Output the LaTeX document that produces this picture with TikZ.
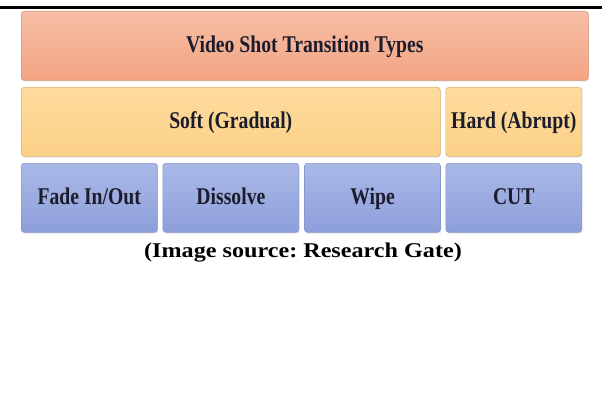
\documentclass[tikz,border=0pt]{standalone}
\usepackage{fontspec}
\setmainfont{Liberation Serif}
\newfontfamily\boxfont[FakeStretch=0.82]{Liberation Serif}
\newfontfamily\notefont[FakeStretch=1.15]{Liberation Serif}
\usetikzlibrary{positioning,shadows}
\frenchspacing

\definecolor{salmontop}{HTML}{F5BEA5}
\definecolor{salmonbot}{HTML}{F4A483}
\definecolor{salmonline}{HTML}{D9957A}
\definecolor{sandtop}{HTML}{FEDB9E}
\definecolor{sandbot}{HTML}{FCD187}
\definecolor{sandline}{HTML}{D8B477}
\definecolor{bluetop}{HTML}{AAB9E7}
\definecolor{bluebot}{HTML}{8D9FDB}
\definecolor{blueline}{HTML}{8797CC}
\definecolor{inktext}{HTML}{1C1C2C}

\tikzset{
  tbox/.style={rounded corners=3pt,line width=.6pt,minimum height=69pt,inner sep=0pt,
    text height=17pt,text depth=3pt,
    text=inktext,font=\boxfont\bfseries\fontsize{24}{26}\selectfont,
    drop shadow={opacity=.18,shadow xshift=.6pt,shadow yshift=-1.4pt}},
  headbox/.style={tbox,draw=salmonline,top color=salmontop,bottom color=salmonbot},
  kindbox/.style={tbox,draw=sandline,top color=sandtop,bottom color=sandbot},
  leafbox/.style={tbox,draw=blueline,top color=bluetop,bottom color=bluebot,minimum width=136pt},
}

\begin{document}
\begin{tikzpicture}[x=1pt,y=-1pt]
\path[use as bounding box,fill=white] (0,0) rectangle (611,412);
\draw[line width=3pt] (0,8)--(602,8);

% top row
\node[headbox,minimum width=567pt,anchor=north west] (types) at (21,11) {Video Shot Transition Types};

% middle row
\node[kindbox,minimum width=419pt,anchor=north west] (soft) at (21,87) {Soft (Gradual)};
\node[kindbox,minimum width=136pt,anchor=north west] (hard) at (445.5,87) {Hard (Abrupt)};

% bottom row
\node[leafbox,anchor=north west] (fade) at (21,163) {Fade In/Out};
\node[leafbox,right=5pt of fade] (dissolve) {Dissolve};
\node[leafbox,right=5pt of dissolve] (wipe) {Wipe};
\node[leafbox,anchor=north west] (cut) at (445.5,163) {CUT};

\node[font=\notefont\bfseries\fontsize{21}{24}\selectfont] (source) at (303,253) {(Image source: Research Gate)};
\end{tikzpicture}
\end{document}
